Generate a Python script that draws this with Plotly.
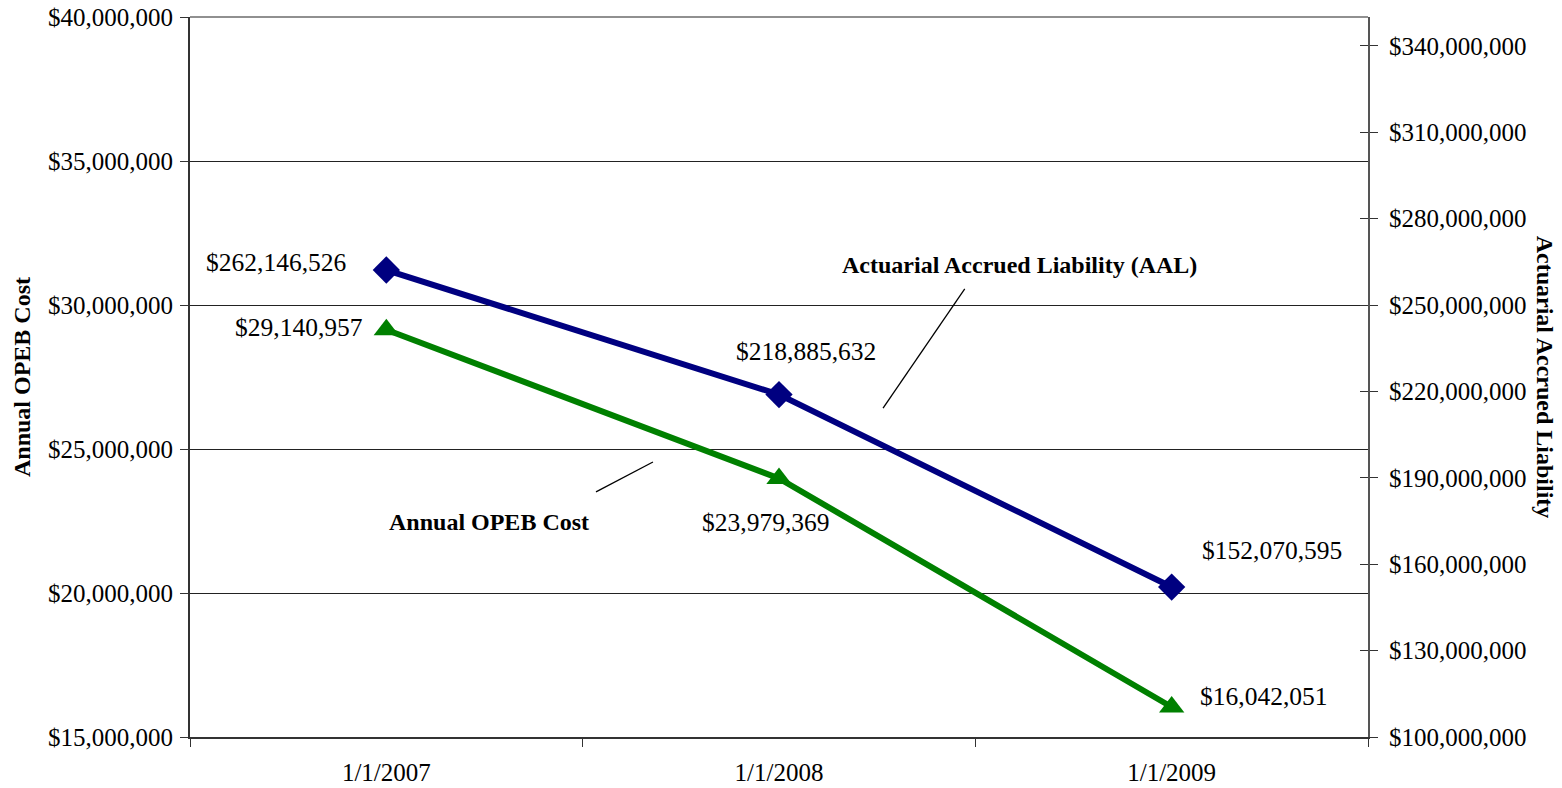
import plotly.graph_objects as go

categories = ["1/1/2007", "1/1/2008", "1/1/2009"]
aal_values = [262146526, 218885632, 152070595]
opeb_values = [29140957, 23979369, 16042051]

left_ticks = [15000000, 20000000, 25000000, 30000000, 35000000, 40000000]
right_ticks = [100000000, 130000000, 160000000, 190000000, 220000000, 250000000, 280000000, 310000000, 340000000]

FONT = "Liberation Serif"
NAVY = "#000080"
GREEN = "#008000"

fig = go.Figure()
fig.add_trace(go.Scatter(
    x=categories, y=opeb_values, mode="lines+markers", yaxis="y",
    line=dict(color=GREEN, width=6),
    marker=dict(symbol="triangle-up", size=22, color=GREEN),
    showlegend=False, hoverinfo="skip"))
fig.add_trace(go.Scatter(
    x=categories, y=aal_values, mode="lines+markers", yaxis="y2",
    line=dict(color=NAVY, width=6),
    marker=dict(symbol="diamond", size=21, color=NAVY),
    showlegend=False, hoverinfo="skip"))

def money(v):
    return "${:,}".format(v)

aal_offsets = [(-110, 8), (27, 43), (100, 37)]
opeb_offsets = [(-87, 2), (-13, -44), (92, 10)]
annotations = []
for c, v, (dx, dy) in zip(categories, aal_values, aal_offsets):
    annotations.append(dict(x=c, y=v, xref="x", yref="y2", text=money(v), showarrow=False,
                            xanchor="center", yanchor="middle",
                            xshift=dx, yshift=dy, font=dict(family=FONT, size=25.5, color="black")))
for c, v, (dx, dy) in zip(categories, opeb_values, opeb_offsets):
    annotations.append(dict(x=c, y=v, xref="x", yref="y", text=money(v), showarrow=False,
                            xanchor="center", yanchor="middle",
                            xshift=dx, yshift=dy, font=dict(family=FONT, size=25.5, color="black")))

bold = dict(family=FONT, size=24, color="black")
annotations.append(dict(x=1.613, y=31390000, xref="x", yref="y", text="<b>Actuarial Accrued Liability (AAL)</b>",
                        xanchor="center", yanchor="middle", showarrow=False, font=bold))
annotations.append(dict(x=0.262, y=22470000, xref="x", yref="y", text="<b>Annual OPEB Cost</b>",
                        xanchor="center", yanchor="middle", showarrow=False, font=bold))
annotations.append(dict(x=-0.1426, y=0.5, xref="paper", yref="paper", text="<b>Annual OPEB Cost</b>",
                        xanchor="center", yanchor="middle", textangle=-90, showarrow=False, font=bold))
annotations.append(dict(x=1.1505, y=0.5, xref="paper", yref="paper", text="<b>Actuarial Accrued Liability</b>",
                        xanchor="center", yanchor="middle", textangle=90, showarrow=False, font=bold))

shapes = [
    dict(type="line", xref="x", yref="y", x0=1.473, y0=30556000, x1=1.265, y1=26420000,
         line=dict(color="black", width=1.3)),
    dict(type="line", xref="x", yref="y", x0=0.534, y0=23510000, x1=0.679, y1=24550000,
         line=dict(color="black", width=1.3)),
    dict(type="line", xref="paper", yref="paper", x0=0, y0=1, x1=1, y1=1,
         line=dict(color="#909090", width=2)),
]

tickfont = dict(family=FONT, size=25, color="black")

fig.update_layout(
    width=1562, height=788,
    margin=dict(l=190, r=194, t=17, b=51, autoexpand=False),
    paper_bgcolor="white", plot_bgcolor="white",
    annotations=annotations, shapes=shapes,
    xaxis=dict(
        type="category", range=[-0.5, 2.5], tickson="boundaries", automargin=False,
        ticks="outside", ticklen=8, tickcolor="#333333", tickwidth=1,
        showline=True, linecolor="#333333", linewidth=2,
        showgrid=False, tickfont=tickfont, ticklabelstandoff=12,
    ),
    yaxis=dict(
        range=[15000000, 40000000], tickvals=left_ticks, automargin=False,
        ticktext=[money(v) for v in left_ticks],
        ticks="outside", ticklen=8, tickcolor="#333333",
        showline=True, linecolor="#333333", linewidth=2,
        showgrid=True, gridcolor="#222222", gridwidth=1, zeroline=False,
        tickfont=tickfont, ticklabelstandoff=2,
    ),
    yaxis2=dict(
        range=[100000000, 350000000], tickvals=right_ticks, automargin=False,
        ticktext=[money(v) for v in right_ticks],
        overlaying="y", side="right", anchor="x",
        ticks="outside", ticklen=8, tickcolor="#333333",
        showline=True, linecolor="#555555", linewidth=2,
        showgrid=False, zeroline=False,
        tickfont=tickfont, ticklabelstandoff=6,
    ),
    yaxis3=dict(
        range=[100000000, 350000000], tickvals=right_ticks, automargin=False,
        overlaying="y", side="right", anchor="x",
        ticks="inside", ticklen=8, tickcolor="#333333",
        showticklabels=False, showline=False, showgrid=False, zeroline=False,
    ),
)
fig.add_trace(go.Scatter(x=[categories[0]], y=[None], yaxis="y3", showlegend=False, hoverinfo="skip"))

fig.write_html("out.html")
